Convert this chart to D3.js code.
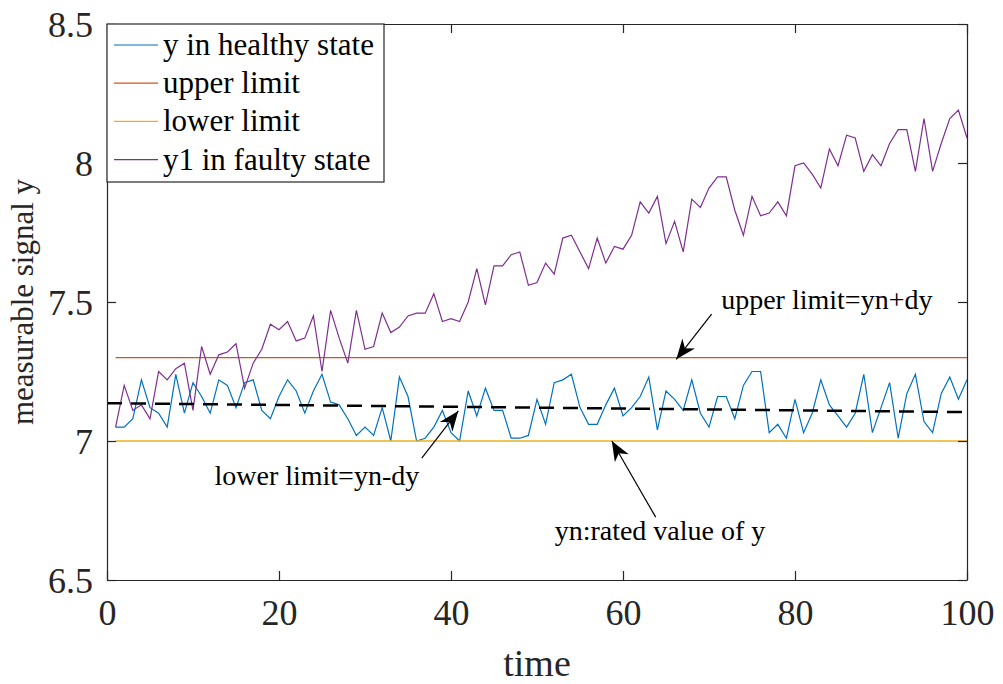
<!DOCTYPE html>
<html>
<head>
<meta charset="utf-8">
<script src="https://cdn.jsdelivr.net/npm/d3@7"></script>
<style>
  body { margin: 0; background: #fff; }
</style>
</head>
<body>
<div id="chart"></div>
<script>
const WIDTH = 1003, HEIGHT = 684
const MARGIN = { TOP: 24, RIGHT: 36, BOTTOM: 104, LEFT: 107 }
const FONT = "'Liberation Serif', 'Times New Roman', Times, serif"

// time steps 1..100
const time = d3.range(1, 101)

const yHealthy = [
  7.05, 7.05, 7.08, 7.22, 7.12, 7.10, 7.05, 7.24, 7.10, 7.21,
  7.16, 7.10, 7.22, 7.20, 7.12, 7.21, 7.22, 7.11, 7.08, 7.16,
  7.22, 7.18, 7.10, 7.18, 7.24, 7.14, 7.13, 7.08, 7.02, 7.05,
  7.02, 7.12, 7.00, 7.23, 7.16, 7.00, 7.01, 7.05, 7.11, 7.03,
  7.00, 7.18, 7.09, 7.19, 7.11, 7.11, 7.01, 7.01, 7.02, 7.15,
  7.06, 7.21, 7.22, 7.24, 7.12, 7.06, 7.06, 7.13, 7.19, 7.09,
  7.12, 7.16, 7.23, 7.04, 7.18, 7.15, 7.11, 7.22, 7.10, 7.05,
  7.16, 7.16, 7.08, 7.20, 7.25, 7.25, 7.03, 7.06, 7.01, 7.15,
  7.03, 7.10, 7.22, 7.13, 7.09, 7.05, 7.10, 7.24, 7.03, 7.12,
  7.21, 7.01, 7.17, 7.24, 7.07, 7.03, 7.17, 7.23, 7.15, 7.22
]

const yFaulty = [
  7.05, 7.20, 7.11, 7.13, 7.08, 7.25, 7.22, 7.26, 7.28, 7.11,
  7.34, 7.24, 7.31, 7.32, 7.35, 7.19, 7.28, 7.33, 7.42, 7.40,
  7.43, 7.36, 7.37, 7.45, 7.25, 7.47, 7.37, 7.28, 7.47, 7.33,
  7.34, 7.46, 7.39, 7.41, 7.45, 7.46, 7.46, 7.53, 7.43, 7.44,
  7.43, 7.50, 7.62, 7.49, 7.63, 7.63, 7.67, 7.68, 7.56, 7.57,
  7.64, 7.60, 7.73, 7.74, 7.68, 7.62, 7.73, 7.64, 7.70, 7.69,
  7.74, 7.86, 7.82, 7.88, 7.71, 7.79, 7.68, 7.87, 7.84, 7.91,
  7.95, 7.95, 7.83, 7.74, 7.88, 7.81, 7.82, 7.86, 7.81, 7.99,
  8.00, 7.96, 7.91, 8.05, 7.99, 8.10, 8.09, 7.97, 8.03, 7.99,
  8.07, 8.12, 8.12, 7.97, 8.16, 7.97, 8.07, 8.16, 8.19, 8.09
]

const upperLimit = 7.3
const lowerLimit = 7.0
// dashed reference line (two end points)
const trendX = [0, 100]
const trendY = [7.136, 7.104]

const xTicks = [0, 20, 40, 60, 80, 100]
const yTicks = [6.5, 7, 7.5, 8, 8.5]

const legendNames = ["y in healthy state", "upper limit", "lower limit", "y1 in faulty state"]
const colors = ["#0072BD", "#D95319", "#EDB120", "#7E2F8E"]

// annotations: text, text anchor point, arrow start, arrow tip (data units)
const notes = [
  { label: "upper limit=yn+dy", tx: 83.7, ty: 7.475, from: [70.3, 7.456], to: [66.2, 7.294] },
  { label: "lower limit=yn-dy", tx: 24.4, ty: 6.842, from: [36.6, 6.938], to: [40.85, 7.108] },
  { label: "yn:rated value of y", tx: 64.3, ty: 6.644, from: [63.8, 6.726], to: [58.7, 7.0] }
]

const svg = d3.select("#chart").append("svg")
  .attr("width", WIDTH)
  .attr("height", HEIGHT)

svg.append("rect").attr("width", WIDTH).attr("height", HEIGHT).attr("fill", "#fff")

const x = d3.scaleLinear().domain([0, 100]).range([MARGIN.LEFT, WIDTH - MARGIN.RIGHT])
const y = d3.scaleLinear().domain([6.5, 8.5]).range([HEIGHT - MARGIN.BOTTOM, MARGIN.TOP])

// data lines
const line = d3.line().x(d => x(d[0])).y(d => y(d[1]))

const g = svg.append("g")

g.append("path")
  .attr("d", line(time.map((t, i) => [t, yHealthy[i]])))
  .attr("fill", "none").attr("stroke", colors[0]).attr("stroke-width", 1.2)

g.append("path")
  .attr("d", line(time.map(t => [t, upperLimit])))
  .attr("fill", "none").attr("stroke", colors[1]).attr("stroke-width", 1.2)

g.append("path")
  .attr("d", line(time.map(t => [t, lowerLimit])))
  .attr("fill", "none").attr("stroke", colors[2]).attr("stroke-width", 1.5)

g.append("path")
  .attr("d", line(time.map((t, i) => [t, yFaulty[i]])))
  .attr("fill", "none").attr("stroke", colors[3]).attr("stroke-width", 1.2)

g.append("path")
  .attr("d", line(trendX.map((t, i) => [t, trendY[i]])))
  .attr("fill", "none").attr("stroke", "#000").attr("stroke-width", 2.5)
  .attr("stroke-dasharray", "15,9")

// axes box with inward ticks on all sides
const axisColor = "#262626"
const bottomAxis = svg.append("g")
  .attr("transform", `translate(0,${HEIGHT - MARGIN.BOTTOM})`)
  .call(d3.axisBottom(x).tickValues(xTicks).tickSizeInner(-9).tickSizeOuter(0).tickPadding(14).tickFormat(d3.format("d")))
svg.append("g")
  .attr("transform", `translate(0,${MARGIN.TOP})`)
  .call(d3.axisTop(x).tickValues(xTicks).tickSizeInner(-9).tickSizeOuter(0).tickFormat(""))
const leftAxis = svg.append("g")
  .attr("transform", `translate(${MARGIN.LEFT},0)`)
  .call(d3.axisLeft(y).tickValues(yTicks).tickSizeInner(-9).tickSizeOuter(0).tickPadding(14).tickFormat(d => d))
svg.append("g")
  .attr("transform", `translate(${WIDTH - MARGIN.RIGHT},0)`)
  .call(d3.axisRight(y).tickValues(yTicks).tickSizeInner(-9).tickSizeOuter(0).tickFormat(""))

svg.selectAll(".domain, .tick line").attr("stroke", axisColor).attr("stroke-width", 1.2)
svg.selectAll(".tick text")
  .attr("font-size", 36)
  .attr("fill", "#262626")
bottomAxis.selectAll(".tick text").attr("dy", "0.85em")
leftAxis.selectAll(".tick text").attr("dy", "0.34em")

// axis labels
svg.append("text")
  .attr("x", x(50))
  .attr("y", 676)
  .attr("text-anchor", "middle")
  .attr("font-size", 38)
  .attr("fill", "#262626")
  .text("time")

svg.append("text")
  .attr("transform", `translate(33,${y(7.5)}) rotate(-90)`)
  .attr("text-anchor", "middle")
  .attr("font-size", 31)
  .attr("fill", "#262626")
  .text("measurable signal y")

// annotations with arrows
function arrowHead(sel, x0, y0, x1, y1) {
  const ang = Math.atan2(y1 - y0, x1 - x0)
  const L = 20, W = 8, N = 14
  const pts = [
    [x1, y1],
    [x1 - L * Math.cos(ang) + W * Math.sin(ang), y1 - L * Math.sin(ang) - W * Math.cos(ang)],
    [x1 - N * Math.cos(ang), y1 - N * Math.sin(ang)],
    [x1 - L * Math.cos(ang) - W * Math.sin(ang), y1 - L * Math.sin(ang) + W * Math.cos(ang)]
  ]
  sel.append("path").attr("d", "M" + pts.join("L") + "Z").attr("fill", "#000")
}

notes.forEach(n => {
  const x0 = x(n.from[0]), y0 = y(n.from[1]), x1 = x(n.to[0]), y1 = y(n.to[1])
  svg.append("line")
    .attr("x1", x0).attr("y1", y0).attr("x2", x1).attr("y2", y1)
    .attr("stroke", "#000").attr("stroke-width", 1.2)
  arrowHead(svg, x0, y0, x1, y1)
  svg.append("text")
    .attr("x", x(n.tx)).attr("y", y(n.ty))
    .attr("text-anchor", "middle")
    .attr("font-size", 28)
    .text(n.label)
})

// legend
const legend = svg.append("g").attr("transform", `translate(${MARGIN.LEFT},${MARGIN.TOP})`)
legend.append("rect")
  .attr("width", 277).attr("height", 158)
  .attr("fill", "#fff").attr("stroke", axisColor).attr("stroke-width", 1.2)

legendNames.forEach((name, i) => {
  const ly = 21 + i * 38.2
  legend.append("line")
    .attr("x1", 7).attr("x2", 51).attr("y1", ly).attr("y2", ly)
    .attr("stroke", colors[i]).attr("stroke-width", 1.2)
  legend.append("text")
    .attr("x", 56).attr("y", ly + 10)
    .attr("font-size", 31)
    .text(name)
})

// same serif face for every text, set as a style so it wins over axis defaults
svg.selectAll("text").style("font-family", FONT)
</script>
</body>
</html>
